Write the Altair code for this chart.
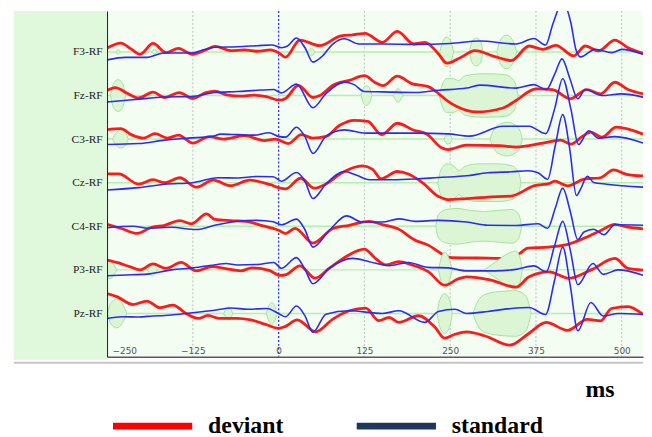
import altair as alt
import pandas as pd

# ---------------- data ----------------
CHANNELS = ["F3-RF", "Fz-RF", "C3-RF", "Cz-RF", "C4-RF", "P3-RF", "Pz-RF"]
SPACING = 44                      # vertical offset between channel baselines (a.u.)
X_TICKS = [-250, -125, 0, 125, 250, 375, 500]
SERIES = ["deviant", "standard"]
LINE_COLORS = ["#ff1a1a", "#2b2bf2"]
LEGEND_COLORS = ["#ff0000", "#1d3660"]

# time (ms) / amplitude pairs (positive = up)
F3_DEV_T = [-250, -230, -215, -202, -183, -164, -146, -133, -125, -108, -92, -70, -50, -31, -12, 1, 10, 31, 60, 91, 108, 127, 134, 151, 173, 197, 213, 233, 245, 266, 286, 315, 339, 365, 385, 404, 430, 447, 466, 490, 509, 531]
F3_DEV_V = [4, 9, 3, -2.4, 8.6, -0.7, 3.5, -0.5, -2.4, 1.5, 5.5, 1.3, 2, 0.7, 2, -1.3, -5.3, 12, 6.3, 16.3, 17.3, 18.7, 16.3, 9.7, 20.7, 8, 9.7, -2, -11.3, -5.3, 1.3, -4.7, -8.7, 6, 2.6, 6.6, -4, 6, 1, 12, 4.3, -1.4]
F3_STD_T = [-250, -223, -194, -166, -127, -108, -94, -60, -31, -10, 4, 13, 26, 38, 50, 62, 79, 96, 117, 151, 199, 250, 293, 346, 372, 389, 400, 414, 426, 433, 440, 461, 486, 500, 531]
F3_STD_V = [-8, -5.5, -5.5, -1, -1, 2.5, 4.7, 5.3, 6.3, 7, 4.3, 6, 14, 4.7, -10.3, -5.3, 8, 13.3, 8, 8, 7.6, 8.5, 11, 8, 13.5, 7, 29, 50, 29, 3, -5, 2.6, -0.7, 2.6, -2.4]

FZ_DEV_T = [-250, -238, -220, -204, -183, -166, -145, -125, -106, -93, -74, -55, -36, -16, 1, 10, 29, 50, 60, 79, 103, 125, 141, 152, 173, 194, 218, 233, 247, 274, 288, 327, 346, 375, 399, 425, 449, 469, 490, 509, 531]
FZ_DEV_V = [5, 8, 2, -2.5, 3.5, -2, 3, -3, 3, 4.5, 0.3, -0.7, 0.5, -1.5, -4.7, -3, 10.3, -2, 0, 10.3, 15.3, 20, 13, 10, 19.5, 12, 9, 2, -6, -15, -16.6, -12.6, -5, 6.7, 6, -3.3, 6, 1.7, 13.4, 6, 1.7]
FZ_STD_T = [-250, -209, -166, -127, -93, -60, -26, -7, 4, 26, 50, 69, 96, 110, 125, 151, 199, 233, 274, 293, 346, 372, 390, 402, 413, 424, 436, 447, 471, 500, 531]
FZ_STD_V = [-6.5, -4, -1.5, -1, 3, 4, 5.5, 6, 2.7, 11.5, -12.3, 2, 13.5, 11, 4, 3.7, 3, 5.3, 7.5, 10.5, 7.5, 11, 6, 21, 37, 18, -3.3, 6, 0, 1.7, -1.6]

C3_DEV_T = [-250, -230, -214, -197, -180, -162, -146, -125, -101, -80, -50, -21, -5, 14, 33, 50, 69, 89, 110, 130, 150, 173, 197, 216, 238, 247, 274, 322, 346, 385, 411, 426, 442, 455, 471, 492, 531]
C3_DEV_V = [9.5, 10.5, 4.3, 1, 5.5, 1, 4, -4, 2.5, 0, 3.5, -1.5, 0, -4.5, 4.5, 1, 2.7, 14, 19, 18, 4.5, 16, 9, 5, -9, -10.5, -6, -6.5, -8, -4, -1, -5, 2.5, 7, 2, 12, 5]
C3_STD_T = [-250, -204, -166, -132, -98, -84, -60, -36, -14, 1, 10, 26, 38, 50, 69, 96, 127, 199, 247, 278, 327, 365, 389, 402, 414, 426, 437, 452, 466, 490, 531]
C3_STD_V = [-5.5, -4.5, -1, 1, 2.5, 5, 4.5, 4, 6.5, 2.5, 2, 12, 3, -14.5, 2.7, 9.3, 6, 6, 5.3, 3, 13, 13, 5.5, 30, 61, 30, -5.5, 8.5, 1, 2.5, -4]

CZ_DEV_T = [-250, -233, -204, -183, -166, -144, -120, -95, -70, -42, -12, 2, 10, 32, 52, 69, 93, 122, 137, 149, 173, 189, 209, 233, 247, 274, 305, 339, 373, 394, 402, 421, 445, 469, 488, 507, 531]
CZ_DEV_V = [9, 9, -1.5, 3, 0, 5, -4.5, 2.5, -3, 2.5, -2, -5.5, -6.3, 4.5, -5.5, -1.3, 10.3, 17, 13.5, 4, 11.3, 8.7, 0.3, -14, -17, -16, -14.5, -13.5, -3, -1, 1.5, -3.2, 3.5, 5, 13, 8.5, 6.8]
CZ_STD_T = [-250, -204, -166, -125, -89, -60, -31, -8, 4, 26, 38, 50, 69, 96, 113, 132, 165, 199, 233, 274, 305, 339, 363, 378, 392, 403, 414, 424, 434, 440, 450, 459, 478, 531]
CZ_STD_V = [-7.3, -5, -1.5, 0, 5, 4.7, 6.3, 6, 1.5, 10.3, 2, -16, -1.3, 11.3, 7.7, 3, 3, 3.7, 5.3, 7, 10, 11, 12, 10, 3.5, 37, 68.7, 35, -13, -6.5, 6.5, 0.3, -1.5, -4.5]

C4_DEV_T = [-250, -228, -206, -185, -166, -144, -127, -105, -93, -70, -48, -24, 0, 10, 24, 50, 79, 103, 132, 151, 173, 199, 218, 238, 252, 290, 325, 351, 363, 394, 423, 452, 469, 490, 507, 531]
C4_DEV_V = [2, -2.5, -7.2, -1, 1, 5.7, 2.5, 12.5, 7, 5.7, 5, 0.7, -4, -7.3, -2, -17, -2.3, 1, 5, 1.7, -2.3, -14, -19, -28, -31.7, -32, -32.5, -27.6, -22, -21, -18, -10, -4.5, 2, -0.7, -2.5]
C4_STD_T = [-250, -212, -190, -156, -120, -93, -60, -31, -8, 4, 26, 38, 50, 74, 99, 122, 151, 175, 199, 233, 274, 305, 346, 378, 392, 403, 414, 425, 436, 445, 459, 474, 490, 531]
C4_STD_V = [-1.5, 0, -2, -1, -3.3, 1, 5, 6, 4.5, 1.5, 7.2, -3, -21, -4, 10.5, 4.3, 4.3, 7.5, 5, 6, 4.3, 1, 0.8, 2.5, -2, 18, 38.5, 15, -13.5, -5.7, -3, -8.5, 1.5, 1]

P3_DEV_T = [-250, -233, -216, -202, -183, -164, -142, -120, -97, -79, -55, -39, -14, 2, 10, 31, 53, 74, 98, 125, 141, 156, 175, 194, 218, 242, 262, 274, 308, 346, 365, 394, 423, 457, 490, 509, 531]
P3_DEV_V = [10, 7, 3, 0, 6, 1.5, 7.5, -1, 3.2, 1.5, -1, 2, -0.5, -5.5, -5, 4, -8.3, 1.7, 13.3, 21, 11.7, 5, 8.3, 5, -1.7, -15.5, -9, -7, -10, -17.5, -7, -2, -8.5, 0.5, 11.5, 1.5, -0.2]
P3_STD_T = [-250, -214, -188, -156, -125, -89, -77, -60, -31, -7, 4, 26, 38, 50, 74, 108, 132, 161, 189, 218, 247, 274, 315, 346, 372, 390, 402, 414, 425, 436, 458, 473, 495, 531]
P3_STD_V = [-6, -5, -4, 0, 2, 5.5, 6.5, 5, 5.5, 7.5, 1.6, 12.4, 1, -14, 1.7, 11.6, 8.3, 4.3, 7.5, 2.5, 2, -1, -1, 0.5, 4, -1.8, 24, 49, 20, -15, 6.5, -4.5, 0, -5.5]

PZ_DEV_T = [-250, -236, -212, -192, -173, -154, -135, -117, -103, -86, -60, -41, -19, 0, 10, 27, 54, 79, 103, 127, 146, 161, 175, 204, 228, 242, 257, 274, 300, 337, 363, 390, 421, 450, 469, 485, 509, 531]
PZ_DEV_V = [20, 17, 9, 12.5, 5.8, 8.5, 0, -5, -2, -5, -5, -6.5, -11, -15, -13, -6.5, -18.5, -5.7, 2.7, 5.3, -7.3, -4, -9, -2.3, -14, -25, -21, -18.5, -22.5, -32, -21, -9, -17, -6, -7.5, 5, 7, -1]
PZ_STD_T = [-250, -228, -204, -183, -166, -125, -93, -69, -45, -17, 1, 10, 26, 38, 50, 69, 103, 151, 175, 213, 233, 257, 274, 305, 339, 365, 389, 402, 414, 425, 436, 455, 473, 495, 531]
PZ_STD_V = [-5, -3.3, -3.5, -2.5, -2, 0.8, 3.3, 5.5, 4.3, 5, -0.5, -3.3, 7.5, -2, -19, -0.7, 2.7, 0, 2.7, -9, 2, 4.3, 0, 2, 5, 6, -1, 33, 67, 28, -17.5, 11, -2.5, 0, -1]

# significance regions: (times, half-widths) around each baseline
F3_SIG = [([-237, -234, -231], [0, 2.5, 0]), ([-185, -181, -177], [0, 2.5, 0]), ([43, 48, 53], [0, 4, 0]),
          ([235, 240, 245, 250, 255], [0, 12, 15, 12, 0]), ([278, 283, 288, 293, 298], [0, 12, 14, 12, 0]),
          ([318, 324, 332, 340, 347], [0, 13, 17, 13, 0])]
FZ_SIG = [([-245, -240, -234, -228, -223], [0, 13, 16, 13, 0]), ([120, 124, 128, 132, 136], [0, 8, 10, 8, 0]),
          ([167, 171, 174, 177, 181], [0, 5, 7, 5, 0]),
          ([234, 238, 245, 255, 262, 272, 300, 330, 343, 349], [0, 10, 17, 17, 15, 20, 22, 21, 15, 0])]
C3_SIG = [([-242, -236, -230, -224, -219], [0, 7, 9, 7, 0]), ([241, 244, 247, 250, 253], [0, 4, 5, 4, 0]),
          ([308, 314, 322, 333, 345, 352, 355], [0, 10, 15, 17, 14, 8, 0])]
CZ_SIG = [([232, 236, 245, 255, 263, 270, 290, 320, 340, 350, 353], [0, 12, 19, 17, 12, 16, 19, 19, 17, 10, 0])]
C4_SIG = [([229, 233, 245, 260, 280, 300, 320, 340, 350, 354], [0, 12, 17, 18, 16, 15, 16, 17, 12, 0])]
P3_SIG = [([-252, -246, -240, -236], [5, 9, 5, 0]), ([-191, -187, -184, -181, -177], [0, 5, 6, 5, 0]),
          ([233, 237, 242, 248, 253], [0, 12, 18, 12, 0]),
          ([300, 310, 320, 333, 345, 351, 355], [0, 5, 10, 16, 19, 14, 0])]
PZ_SIG = [([-249, -245, -236, -228, -221], [0, 10, 14.5, 10, 0]), ([-80, -76, -73, -70, -67], [0, 5, 6.5, 5, 0]),
          ([-18, -14, -10, -6, -2], [0, 8, 11, 8, 0]), ([231, 235, 242, 249, 253], [0, 14, 20, 14, 0]),
          ([283, 290, 300, 320, 345, 360, 366, 368], [0, 12, 19, 22, 23, 18, 6, 0])]

CURVES = {
    "F3-RF": [(F3_DEV_T, F3_DEV_V), (F3_STD_T, F3_STD_V)],
    "Fz-RF": [(FZ_DEV_T, FZ_DEV_V), (FZ_STD_T, FZ_STD_V)],
    "C3-RF": [(C3_DEV_T, C3_DEV_V), (C3_STD_T, C3_STD_V)],
    "Cz-RF": [(CZ_DEV_T, CZ_DEV_V), (CZ_STD_T, CZ_STD_V)],
    "C4-RF": [(C4_DEV_T, C4_DEV_V), (C4_STD_T, C4_STD_V)],
    "P3-RF": [(P3_DEV_T, P3_DEV_V), (P3_STD_T, P3_STD_V)],
    "Pz-RF": [(PZ_DEV_T, PZ_DEV_V), (PZ_STD_T, PZ_STD_V)],
}
SIGS = {"F3-RF": F3_SIG, "Fz-RF": FZ_SIG, "C3-RF": C3_SIG, "Cz-RF": CZ_SIG,
        "C4-RF": C4_SIG, "P3-RF": P3_SIG, "Pz-RF": PZ_SIG}

# ---------------- tables ----------------
n = len(CHANNELS)
OFFSETS = {ch: (n - 1 - i) * SPACING for i, ch in enumerate(CHANNELS)}

line_rows = []
for ch in CHANNELS:
    for s, (T, V) in zip(SERIES, CURVES[ch]):
        for t, v in zip(T, V):
            line_rows.append({"ch": ch, "series": s, "t": t, "y": OFFSETS[ch] + v})
lines = pd.DataFrame(line_rows)

sig_rows = []
for ch in CHANNELS:
    for k, (T, W) in enumerate(SIGS[ch]):
        for t, w in zip(T, W):
            sig_rows.append({"ch": ch, "region": f"{ch}-{k}", "t": t,
                             "lo": OFFSETS[ch] - w, "hi": OFFSETS[ch] + w})
sig = pd.DataFrame(sig_rows)

base = pd.DataFrame({"ch": CHANNELS, "y": [OFFSETS[c] for c in CHANNELS]})

# ---------------- scales / axes ----------------
xscale = alt.Scale(domain=[-250, 531], nice=False, zero=False)
yscale = alt.Scale(domain=[-43.7, 305.3], nice=False, zero=False)

x_axis = alt.Axis(values=X_TICKS, grid=False, ticks=False, tickSize=0, domain=True,
                  domainColor="#5a5a5a", domainWidth=1.5, labelFont="DejaVu Sans",
                  labelFontSize=9, labelColor="#555555", labelPadding=-3,
                  labelBaseline="alphabetic", labelFlush=True, labelFlushOffset=-5,
                  labelOverlap=False, format="d", title="ms", titleFont="Liberation Serif",
                  titleFontSize=24, titleFontWeight="bold", titleColor="black",
                  titleX=497, titleY=40, titleAlign="center", titleBaseline="alphabetic",
                  zindex=1)

names_by_value = [c for c in reversed(CHANNELS)]
label_expr = "[" + ",".join(f"'{c}'" for c in names_by_value) + f"][round(datum.value/{SPACING})]"
y_axis = alt.Axis(values=sorted(OFFSETS.values()), labelExpr=label_expr, ticks=False, tickSize=0,
                  domain=True, domainColor="#1a1a1a", domainWidth=1, grid=False,
                  labelFont="Liberation Serif", labelFontSize=11.5, labelColor="#222222",
                  labelPadding=5, labelOverlap=False, title=None, zindex=1)

X = alt.X("t:Q", scale=xscale, axis=x_axis)


def Y(field):
    return alt.Y(f"{field}:Q", scale=yscale, axis=y_axis)


# ---------------- layers ----------------
layers = []

# label panel on the left and light rule under the plot
layers.append(alt.Chart(base.head(1)).mark_rect(fill="#e0f9dc").encode(
    x=alt.value(-94), x2=alt.value(0), y=alt.value(0), y2=alt.value(352)))
layers.append(alt.Chart(base.head(1)).mark_rule(stroke="#c6c6c6", strokeWidth=2).encode(
    x=alt.value(-94), x2=alt.value(541), y=alt.value(355)))

grid_df = pd.DataFrame({"t": [v for v in X_TICKS if v not in (X_TICKS[0], 0)]})
layers.append(alt.Chart(grid_df).mark_rule(stroke="#b0b0b0", strokeDash=[2, 2], strokeWidth=0.8).encode(x=X))
layers.append(alt.Chart(pd.DataFrame({"t": [0]})).mark_rule(
    stroke="#2f2fe6", strokeDash=[2, 2], strokeWidth=1.3).encode(x=X))

layers.append(alt.Chart(base).mark_rule(stroke="#b5efad", strokeWidth=1.5).encode(y=Y("y")))

for ch in CHANNELS:
    sd = sig[sig["ch"] == ch]
    if len(sd):
        layers.append(alt.Chart(sd).mark_area(
            interpolate="monotone", fill="#dcf6d5", stroke="#a3e39b", strokeWidth=1, clip=True
        ).encode(x=X, y=Y("lo"), y2="hi:Q", detail="region:N"))
    for s, col, w in zip(SERIES, LINE_COLORS, [2.8, 1.6]):
        ld = lines[(lines["ch"] == ch) & (lines["series"] == s)]
        layers.append(alt.Chart(ld).mark_line(
            interpolate="monotone", color=col, strokeWidth=w, clip=True
        ).encode(x=X, y=Y("y")))

# legend (drawn from an emptied copy of the line table)
legend = alt.Legend(orient="none", legendX=-1, legendY=407, direction="horizontal", title=None,
                    symbolType="M-1,0H15", symbolSize=100, symbolStrokeWidth=7,
                    symbolOpacity=1, labelFont="Liberation Serif", labelFontSize=24,
                    labelFontWeight="bold", labelColor="black", labelOffset=79,
                    columnPadding=59, padding=0, labelLimit=300)
layers.append(alt.Chart(lines).transform_filter("false").mark_line().encode(
    x=X, y=Y("y"),
    color=alt.Color("series:N", scale=alt.Scale(domain=SERIES, range=LEGEND_COLORS), legend=legend)))

chart = alt.layer(*layers).properties(
    width=541, height=349,
    padding={"left": 5, "top": 0, "right": 0, "bottom": 0},
    background="white",
).configure_view(fill="#f3fdf2", stroke=None)

chart.save("out.html", embed_options={"renderer": "svg", "actions": False})
